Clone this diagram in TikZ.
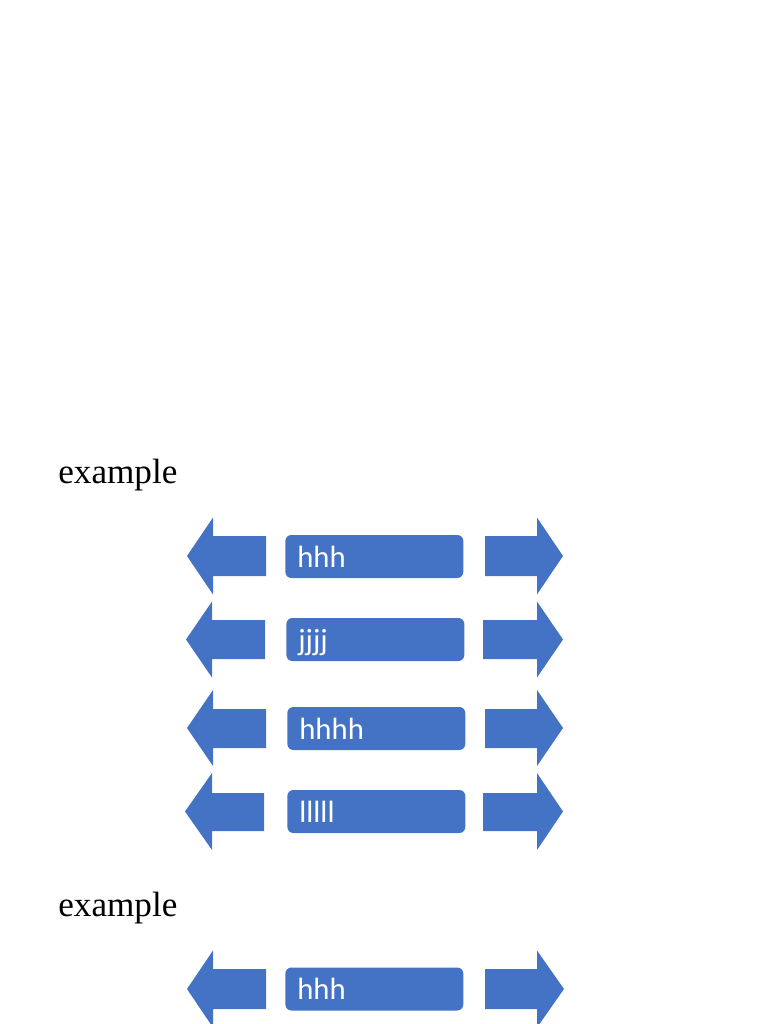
\documentclass[tikz,border=0pt]{standalone}
\usepackage{fontspec}
\setmainfont{Liberation Serif}
\newfontfamily\barfont{Carlito}
\definecolor{officeblue}{HTML}{4472C4}

\begin{document}
\begin{tikzpicture}[x=0.02cm,y=-0.02cm,
		heading/.style={anchor=base west,inner sep=0pt,font=\fontsize{20}{24}\selectfont},
		bar/.style={anchor=west,fill=officeblue,rounded corners=0.12cm,text=white,
			minimum width=3.56cm,minimum height=0.86cm,inner xsep=0.24cm,inner ysep=0pt,
			text width=3.08cm,align=left,text height=0.44cm,text depth=0.02cm,
			font=\barfont\fontsize{17.5}{20}\selectfont}]
		\useasboundingbox (0,0) rectangle (768,1024);
		
		% First group
		\node[heading] (head1) at (58,483) {example};
		
		%% Row 1
		\fill[officeblue] (187,556) -- (213,517.5) -- (213,536) -- (266,536) -- (266,576) -- (213,576) -- (213,594.5) -- cycle;
		\node[bar] (bar1) at (285,556.5) {hhh};
		\fill[officeblue] (485,536) -- (537,536) -- (537,517.5) -- (563,556) -- (537,594.5) -- (537,576) -- (485,576) -- cycle;
		
		%% Row 2
		\fill[officeblue] (186,639.5) -- (212,601.5) -- (212,620) -- (265,620) -- (265,659) -- (212,659) -- (212,677.5) -- cycle;
		\node[bar] (bar2) at (286,639.5) {jjjj};
		\fill[officeblue] (483,620) -- (537,620) -- (537,601.5) -- (563,639.5) -- (537,677.5) -- (537,659) -- (483,659) -- cycle;
		
		%% Row 3
		\fill[officeblue] (187,728) -- (213,690) -- (213,709) -- (266,709) -- (266,748) -- (213,748) -- (213,766) -- cycle;
		\node[bar] (bar3) at (287,728.5) {hhhh};
		\fill[officeblue] (485,709) -- (537,709) -- (537,690) -- (563,728) -- (537,766) -- (537,748) -- (485,748) -- cycle;
		
		%% Row 4
		\fill[officeblue] (185,811.5) -- (212,773) -- (212,793) -- (264,793) -- (264,831) -- (212,831) -- (212,850) -- cycle;
		\node[bar] (bar4) at (287,811.5) {lllll};
		\fill[officeblue] (483,793) -- (537,793) -- (537,773) -- (563,811.5) -- (537,850) -- (537,831) -- (483,831) -- cycle;
		
		% Second group
		\node[heading] (head2) at (58,916) {example};
		
		%% Row 5
		\fill[officeblue] (187,989) -- (213,950.5) -- (213,969) -- (266,969) -- (266,1009) -- (213,1009) -- (213,1027.5) -- cycle;
		\node[bar] (bar5) at (285,989) {hhh};
		\fill[officeblue] (485,969) -- (537,969) -- (537,950.5) -- (564,989) -- (537,1027.5) -- (537,1009) -- (485,1009) -- cycle;
	\end{tikzpicture}
\end{document}
